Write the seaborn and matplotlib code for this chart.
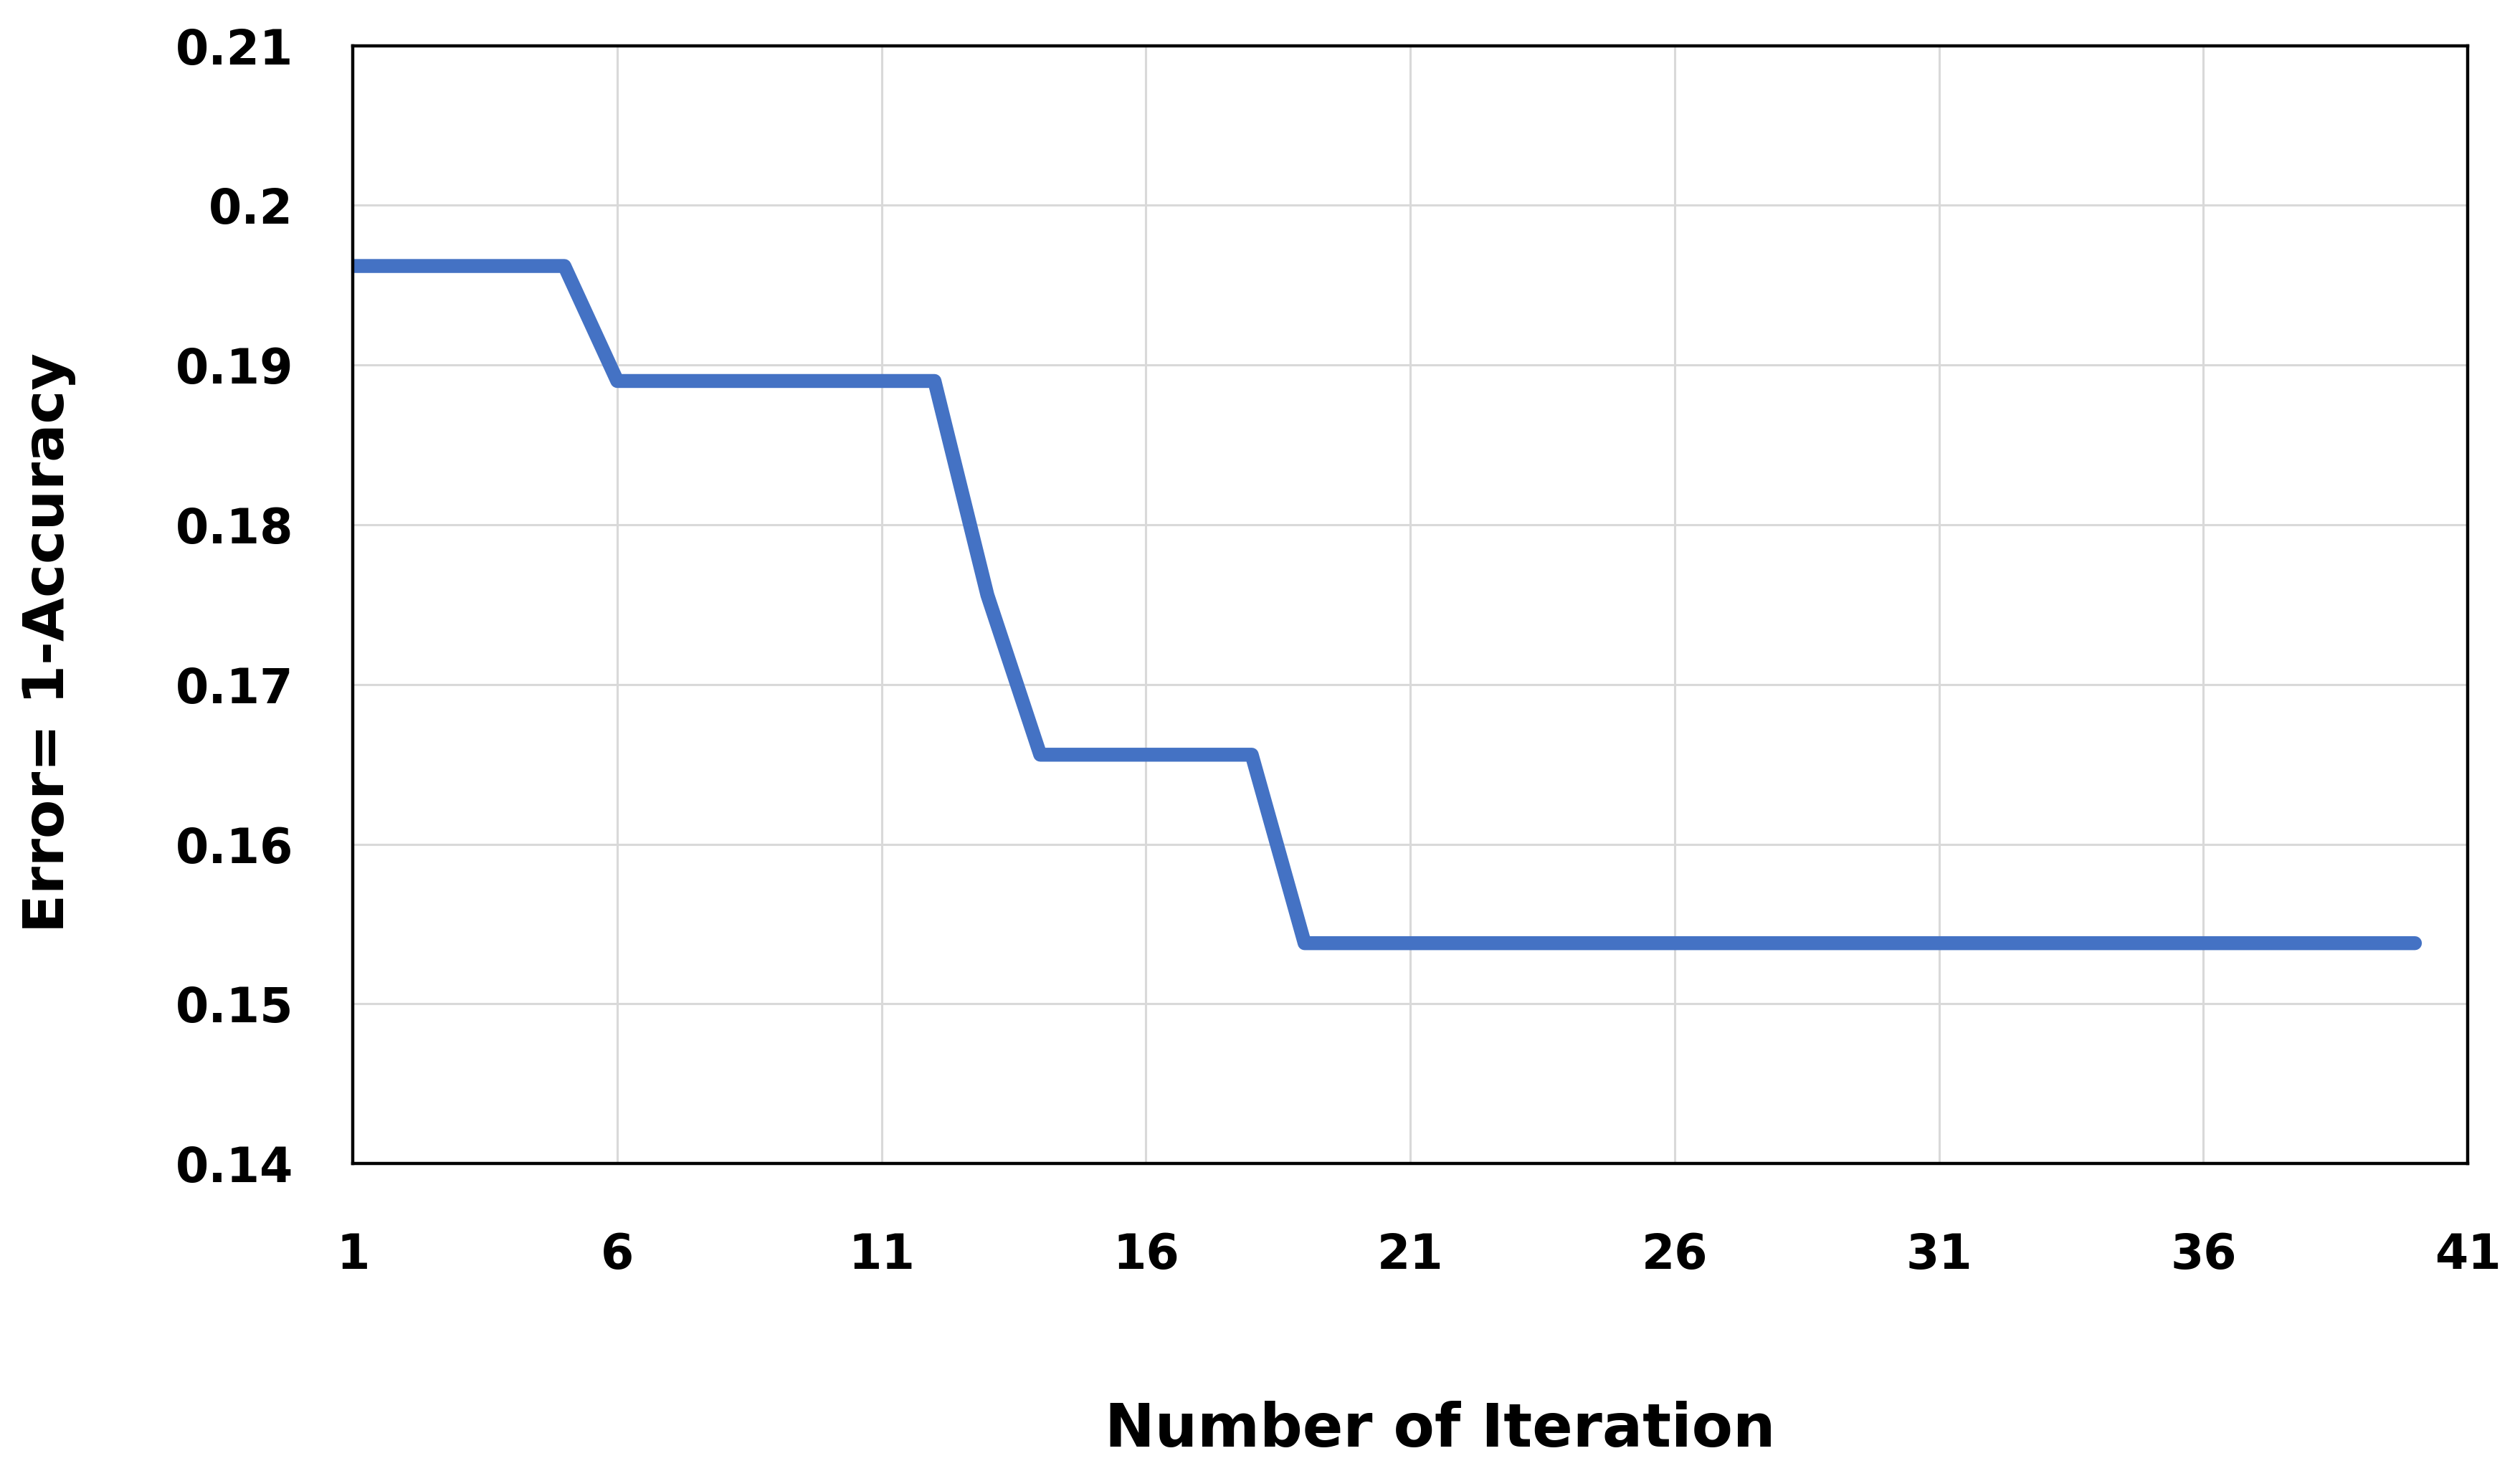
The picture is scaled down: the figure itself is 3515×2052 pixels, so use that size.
import numpy as np
import pandas as pd
import seaborn as sns
import matplotlib.pyplot as plt

# error per iteration
iterations = list(range(1, 41))
error = [0.1962] * 5 + [0.1890] * 7 + [0.1756] + [0.1656] * 5 + [0.1538] * 22

x_ticks = list(range(1, 42, 5))
y_ticks = [0.14, 0.15, 0.16, 0.17, 0.18, 0.19, 0.20, 0.21]
y_tick_labels = ['0.14', '0.15', '0.16', '0.17', '0.18', '0.19', '0.2', '0.21']

data = pd.DataFrame({'iteration': iterations, 'error': error})

sns.set_theme(style='white')
plt.rcParams['font.family'] = ['DejaVu Sans']
plt.rcParams['text.color'] = 'black'
plt.rcParams['axes.labelcolor'] = 'black'
plt.rcParams['xtick.color'] = 'black'
plt.rcParams['ytick.color'] = 'black'

fig = plt.figure(figsize=(17.58, 10.26), dpi=200)
ax = fig.add_axes([0.140, 0.209, 0.839, 0.760])

sns.lineplot(data=data, x='iteration', y='error', color='#4472C4', linewidth=7, ax=ax)

ax.set_xlim(1, 41)
ax.set_ylim(0.14, 0.21)
ax.set_xticks(x_ticks)
ax.set_yticks(y_ticks)
ax.set_yticklabels(y_tick_labels)
ax.grid(True, color='#d9d9d9', linewidth=1.1)
ax.set_axisbelow(True)

for s in ax.spines.values():
    s.set_color('black')
    s.set_linewidth(1.6)

ax.tick_params(axis='x', length=0, pad=34, labelsize=24)
ax.tick_params(axis='y', length=0, pad=30, labelsize=24)
for lab in ax.get_xticklabels() + ax.get_yticklabels():
    lab.set_fontweight('bold')

ax.set_xlabel('Number of Iteration', fontsize=30, fontweight='bold')
ax.set_ylabel('Error= 1-Accuracy', fontsize=28.5, fontweight='bold')
ax.xaxis.set_label_coords(0.514, -0.212)
ax.yaxis.set_label_coords(-0.131, 0.466)

fig.savefig('out.png', dpi=200, facecolor='white')
